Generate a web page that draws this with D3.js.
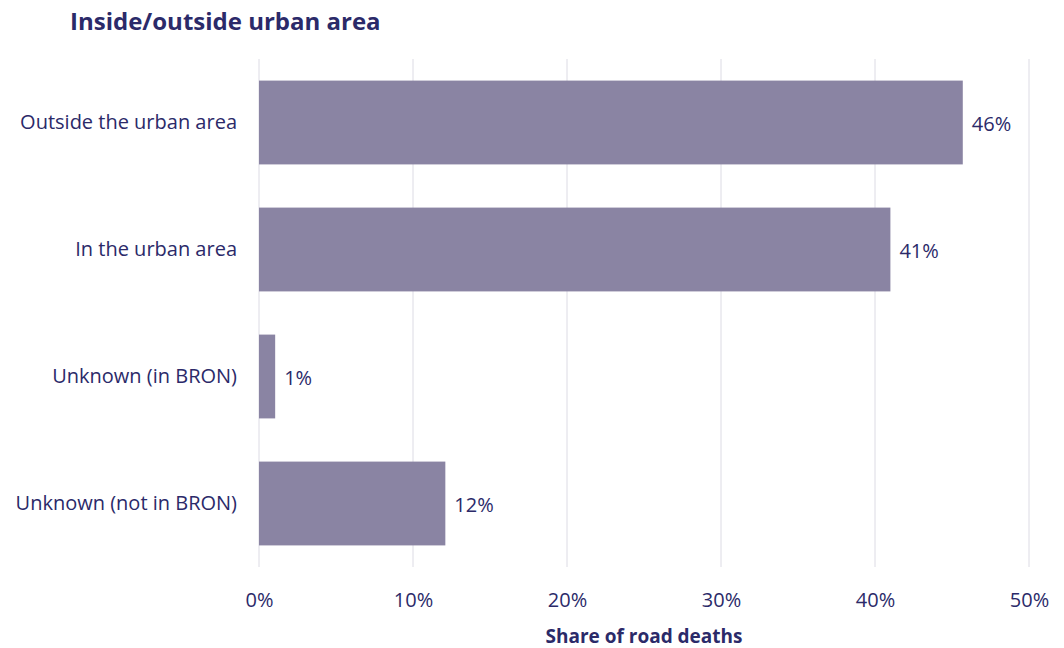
<!DOCTYPE html>
<html>
<head>
<meta charset="utf-8">
<script src="https://cdn.jsdelivr.net/npm/d3@7"></script>
<style>
  html, body { margin: 0; padding: 0; background: #fff; }
  svg { display: block; }
  svg text { font-family: "Open Sans", "Noto Sans", sans-serif; }
</style>
</head>
<body>
<svg id="chart" width="1064" height="648"></svg>
<script>
// Share of road deaths by location relative to the urban area
const categories = ["Outside the urban area", "In the urban area", "Unknown (in BRON)", "Unknown (not in BRON)"];
const shares = [45.7, 41.0, 1.05, 12.1];
const xTicks = [0, 10, 20, 30, 40, 50];

const ink = "#2b2a69";
const barFill = "#8a84a3";
const gridColor = "#dcdbe4";

const svg = d3.select("#chart");
const margin = { left: 259, right: 35, top: 59, bottom: 81 };
const width = 1064, height = 648;

const x = d3.scaleLinear().domain([0, 50]).range([margin.left, width - margin.right]);
const y = d3.scaleBand().domain(categories).range([margin.top, height - margin.bottom])
  .paddingInner(0.34).paddingOuter(0.17);

// vertical gridlines
svg.append("g").selectAll("line").data(xTicks).join("line")
  .attr("x1", d => x(d)).attr("x2", d => x(d))
  .attr("y1", margin.top).attr("y2", height - margin.bottom)
  .attr("stroke", gridColor).attr("stroke-width", 1);

// x axis tick labels
const xAxis = d3.axisBottom(x).tickValues(xTicks).tickFormat(d => d + "%").tickSize(0).tickPadding(0);
const gx = svg.append("g").attr("transform", `translate(0,${height - margin.bottom})`).call(xAxis)
  .attr("font-family", null).attr("font-size", null);
gx.select(".domain").remove();
gx.selectAll("text").attr("y", 40).attr("dy", 0)
  .attr("fill", ink).style("font-size", "20px");

// y axis category labels
const yAxis = d3.axisLeft(y).tickSize(0).tickPadding(22);
const gy = svg.append("g").attr("transform", `translate(${margin.left},0)`).call(yAxis)
  .attr("font-family", null).attr("font-size", null);
gy.select(".domain").remove();
gy.selectAll("text").attr("fill", ink).style("font-size", "20px");

// bars
svg.append("g").selectAll("rect").data(categories).join("rect")
  .attr("x", x(0))
  .attr("y", d => y(d))
  .attr("width", (d, i) => x(shares[i]) - x(0))
  .attr("height", y.bandwidth())
  .attr("fill", barFill);

// value labels
svg.append("g").selectAll("text").data(categories).join("text")
  .attr("x", (d, i) => x(shares[i]) + 9)
  .attr("y", d => y(d) + y.bandwidth() / 2 + 1)
  .attr("dy", "0.35em")
  .attr("fill", ink).style("font-size", "20px")
  .text((d, i) => d3.format(".0f")(shares[i]) + "%");

// title
svg.append("text").attr("x", 70).attr("y", 30)
  .attr("fill", ink).style("font-size", "24px").style("font-weight", "bold")
  .text("Inside/outside urban area");

// axis title
svg.append("text").attr("x", 644).attr("y", 643).attr("text-anchor", "middle")
  .attr("fill", ink).style("font-size", "19px").style("font-weight", "bold")
  .text("Share of road deaths");
</script>
</body>
</html>
